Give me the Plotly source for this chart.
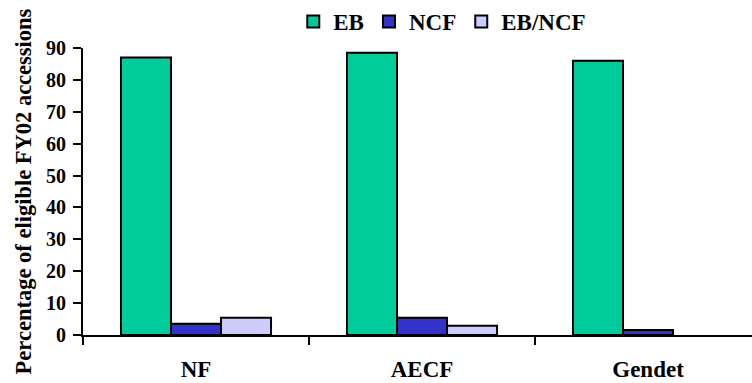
import plotly.graph_objects as go

# Source groups and the share of eligible FY02 accessions in each category
groups = ["NF", "AECF", "Gendet"]
eb = [87.0, 88.5, 86.0]
ncf = [3.5, 5.4, 1.6]
eb_ncf = [5.4, 2.9, None]

series = [
    ("EB", eb, "#00CC99"),
    ("NCF", ncf, "#3333CC"),
    ("EB/NCF", eb_ncf, "#CCCCFF"),
]

FONT = "Liberation Serif"

fig = go.Figure()
for name, vals, color in series:
    fig.add_trace(go.Bar(
        name=name,
        x=groups,
        y=vals,
        marker=dict(color=color, line=dict(color="black", width=2)),
    ))

fig.update_layout(
    width=752,
    height=383,
    barmode="group",
    bargap=0.336,
    bargroupgap=0,
    plot_bgcolor="white",
    paper_bgcolor="white",
    margin=dict(l=83, r=0, t=48, b=48, autoexpand=False),
    font=dict(family=FONT, size=20, color="black", weight="bold"),
    legend=dict(
        orientation="h",
        xref="container", yref="container",
        x=0.39, y=1.0, xanchor="left", yanchor="top",
        font=dict(family=FONT, size=23, color="black", weight="bold"),
        itemwidth=30,
        tracegroupgap=0,
    ),
    showlegend=True,
)

fig.update_xaxes(
    range=[-0.5, 2.46],
    automargin=False,
    showline=True, linecolor="black", linewidth=2,
    ticks="outside", tickson="boundaries", ticklen=8, tickwidth=2, tickcolor="black",
    ticklabelstandoff=12,
    showgrid=False, zeroline=False,
    tickfont=dict(family=FONT, size=23, color="black", weight="bold"),
)

fig.update_yaxes(
    range=[0, 90],
    automargin=False,
    tickvals=[0, 10, 20, 30, 40, 50, 60, 70, 80, 90],
    showline=True, linecolor="black", linewidth=2,
    ticks="outside", ticklen=8, tickwidth=2, tickcolor="black",
    ticklabelstandoff=3,
    showgrid=False, zeroline=False,
    tickfont=dict(family=FONT, size=20, color="black", weight="bold"),
    title=dict(
        text="Percentage of eligible FY02 accessions",
        font=dict(family=FONT, size=22.5, color="black", weight="bold"),
        standoff=8,
    ),
)

fig.write_html("out.html")
